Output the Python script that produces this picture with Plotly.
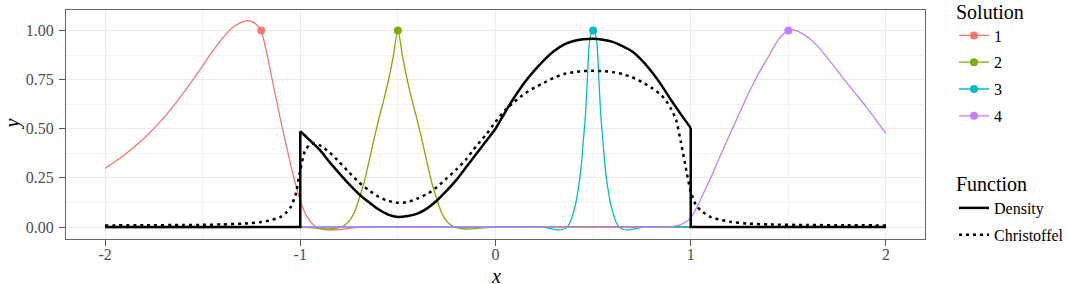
import plotly.graph_objects as go

# ---------------- data ----------------
sol_names = ["1", "2", "3", "4"]
sol_colors = ["#F8766D", "#7CAE00", "#00BFC4", "#C77CFF"]
peak_x = [-1.2, -0.5, 0.5, 1.5]
peak_y = [1.0, 1.0, 1.0, 1.0]

sol1_x = [-2.0, -1.9, -1.8, -1.7, -1.6, -1.5, -1.45, -1.4, -1.35, -1.3, -1.275, -1.25, -1.225, -1.2,
          -1.175, -1.15, -1.125, -1.1, -1.075, -1.05, -1.025, -1.0, -0.975, -0.95, -0.925, -0.9,
          -0.85, -0.8, -0.75, -0.7, -0.6, -0.3, 0.0, 0.3, 0.7, 1.0, 1.5, 2.0]
sol1_y = [0.298, 0.368, 0.452, 0.555, 0.68, 0.82, 0.893, 0.958, 1.012, 1.042, 1.05, 1.046, 1.03, 0.996,
          0.9, 0.78, 0.66, 0.54, 0.43, 0.32, 0.22, 0.135, 0.07, 0.03, 0.005, -0.008,
          -0.015, -0.013, -0.007, -0.002, 0.0, 0.0, 0.0, 0.002, 0.002, 0.0, 0.0, 0.0]

sol2_x = [-2.0, -1.5, -1.0, -0.95, -0.9, -0.85, -0.8, -0.775, -0.75, -0.725, -0.7, -0.675, -0.65, -0.625,
          -0.6, -0.575, -0.55, -0.525, -0.5, -0.475, -0.45, -0.425, -0.4, -0.375, -0.35, -0.325,
          -0.3, -0.275, -0.25, -0.225, -0.2, -0.15, -0.1, -0.05, 0.0, 0.5, 1.0, 1.5, 2.0]
sol2_y = [-0.003, -0.003, -0.002, -0.003, -0.008, -0.01, -0.003, 0.008, 0.03, 0.07, 0.14, 0.22, 0.325, 0.435,
          0.54, 0.635, 0.74, 0.86, 1.0, 0.86, 0.74, 0.635, 0.54, 0.435, 0.325, 0.22,
          0.14, 0.07, 0.03, 0.008, -0.003, -0.01, -0.008, -0.003, 0.0, 0.0, 0.0, 0.0, 0.0]

sol3_x = [-2.0, -1.0, 0.0, 0.23, 0.27, 0.3, 0.325, 0.35, 0.37, 0.38, 0.39, 0.4, 0.41, 0.42, 0.43, 0.44,
          0.45, 0.46, 0.47, 0.48, 0.49, 0.5, 0.51, 0.52, 0.53, 0.54, 0.55, 0.56, 0.57, 0.58, 0.59,
          0.6, 0.61, 0.62, 0.63, 0.65, 0.675, 0.7, 0.73, 0.77, 1.0, 1.5, 2.0]
sol3_y = [0.0, 0.0, 0.0, 0.0, -0.005, -0.012, -0.015, -0.01, 0.003, 0.02, 0.045, 0.078, 0.115, 0.17,
          0.235, 0.32, 0.44, 0.56, 0.74, 0.93, 0.985, 1.0, 0.985, 0.93, 0.74, 0.56, 0.44, 0.32,
          0.235, 0.17, 0.115, 0.078, 0.045, 0.02, 0.003, -0.01, -0.015, -0.012, -0.005, 0.0, 0.0,
          0.0, 0.0]

sol4_x = [-2.0, -1.0, 0.0, 0.85, 0.9, 0.95, 1.0, 1.05, 1.1, 1.15, 1.2, 1.25, 1.3, 1.35, 1.4, 1.45, 1.5,
          1.525, 1.55, 1.6, 1.65, 1.7, 1.75, 1.8, 1.85, 1.9, 1.95, 2.0]
sol4_y = [0.0, 0.0, 0.0, 0.0, 0.002, 0.012, 0.045, 0.14, 0.245, 0.36, 0.47, 0.58, 0.688, 0.785, 0.87,
          0.955, 1.0, 1.003, 0.995, 0.965, 0.92, 0.86, 0.797, 0.733, 0.672, 0.61, 0.543, 0.476]

dens_x = [-2.0, -1.0, -1.0, -0.95, -0.9, -0.85, -0.8, -0.75, -0.7, -0.65, -0.6, -0.55, -0.5, -0.45,
          -0.4, -0.35, -0.3, -0.25, -0.2, -0.15, -0.1, -0.05, 0.0, 0.05, 0.1, 0.15, 0.2, 0.25,
          0.3, 0.35, 0.4, 0.45, 0.5, 0.55, 0.6, 0.65, 0.7, 0.75, 0.8, 0.85, 0.9, 0.95, 1.0, 1.0, 2.0]
dens_y = [0.0, 0.0, 0.487, 0.44, 0.392, 0.33, 0.273, 0.218, 0.168, 0.127, 0.09, 0.063, 0.051, 0.056,
          0.068, 0.095, 0.135, 0.185, 0.24, 0.305, 0.37, 0.435, 0.5, 0.585, 0.665, 0.737, 0.797, 0.85,
          0.895, 0.928, 0.946, 0.955, 0.958, 0.953, 0.942, 0.92, 0.893, 0.848, 0.79, 0.722, 0.645,
          0.573, 0.504, 0.0, 0.0]

chr_x = [-2.0, -1.8, -1.6, -1.5, -1.4, -1.3, -1.25, -1.2, -1.15, -1.1, -1.075, -1.05, -1.025, -1.0,
         -0.975, -0.95, -0.925, -0.9, -0.85, -0.8, -0.75, -0.7, -0.65, -0.6, -0.55, -0.5, -0.45,
         -0.4, -0.35, -0.3, -0.25, -0.2, -0.15, -0.1, -0.05, 0.0, 0.05, 0.1, 0.15, 0.2, 0.25, 0.3,
         0.35, 0.4, 0.45, 0.5, 0.55, 0.6, 0.65, 0.7, 0.75, 0.8, 0.85, 0.875, 0.9, 0.925, 0.95,
         0.975, 1.0, 1.025, 1.05, 1.1, 1.15, 1.2, 1.3, 1.4, 1.6, 1.8, 2.0]
chr_y = [0.008, 0.009, 0.01, 0.011, 0.013, 0.017, 0.02, 0.025, 0.035, 0.052, 0.07, 0.1, 0.16, 0.29,
         0.39, 0.42, 0.425, 0.415, 0.38, 0.33, 0.278, 0.228, 0.188, 0.155, 0.133, 0.123, 0.127,
         0.145, 0.168, 0.203, 0.248, 0.293, 0.345, 0.41, 0.468, 0.535, 0.595, 0.64, 0.679, 0.709,
         0.735, 0.76, 0.778, 0.788, 0.793, 0.795, 0.793, 0.788, 0.778, 0.762, 0.738, 0.708, 0.67,
         0.64, 0.6, 0.545, 0.43, 0.3, 0.18, 0.115, 0.085, 0.052, 0.037, 0.027, 0.017, 0.013, 0.01,
         0.009, 0.008]

x_ticks = [-2, -1, 0, 1, 2]
x_tick_labels = ["-2", "-1", "0", "1", "2"]
x_minor = [-1.5, -0.5, 0.5, 1.5]
y_ticks = [0, 0.25, 0.5, 0.75, 1.0]
y_tick_labels = ["0.00", "0.25", "0.50", "0.75", "1.00"]
y_minor = [0.125, 0.375, 0.625, 0.875]
x_title = "<i>x</i>"
y_title = "<i>y</i>"

FONT = "Liberation Serif"

fig = go.Figure()

sol_xs = [sol1_x, sol2_x, sol3_x, sol4_x]
sol_ys = [sol1_y, sol2_y, sol3_y, sol4_y]
for xs, ys, c in zip(sol_xs, sol_ys, sol_colors):
    fig.add_trace(go.Scatter(x=xs, y=ys, mode="lines",
                             line=dict(color=c, width=1.3, shape="spline", smoothing=0.8),
                             showlegend=False, hoverinfo="skip"))

# Density: flat/vertical pieces drawn straight, smooth middle part as spline
dens_line = dict(color="black", width=2.5)
fig.add_trace(go.Scatter(x=dens_x[:3], y=dens_y[:3], mode="lines", line=dens_line,
                         showlegend=False, hoverinfo="skip"))
fig.add_trace(go.Scatter(x=dens_x[-3:], y=dens_y[-3:], mode="lines", line=dens_line,
                         showlegend=False, hoverinfo="skip"))
fig.add_trace(go.Scatter(x=dens_x[2:-2], y=dens_y[2:-2], mode="lines", name="Density",
                         line=dict(color="black", width=2.5, shape="spline", smoothing=0.6),
                         legend="legend2", legendgroup="d"))
fig.add_trace(go.Scatter(x=chr_x, y=chr_y, mode="lines", name="Christoffel",
                         line=dict(color="black", width=2.5, dash="3px,4px", shape="spline",
                                   smoothing=0.6),
                         legend="legend2", legendgroup="c"))

for i, (n, c) in enumerate(zip(sol_names, sol_colors)):
    fig.add_trace(go.Scatter(x=[peak_x[i]], y=[peak_y[i]], mode="lines+markers", name=n,
                             line=dict(color=c, width=1.3), marker=dict(color=c, size=8),
                             legend="legend", legendgroup="s" + n))

grid = "#EBEBEB"
fig.update_layout(
    width=1068, height=284,
    margin=dict(l=66, r=143, t=10, b=45, autoexpand=False),
    plot_bgcolor="white", paper_bgcolor="white",
    font=dict(family=FONT, size=16, color="#4D4D4D"),
    xaxis=dict(range=[-2.2, 2.2], tickvals=x_ticks, ticktext=x_tick_labels, automargin=False,
               showgrid=True, gridcolor=grid, gridwidth=1, zeroline=False,
               showline=True, mirror=True, linecolor="#666666", linewidth=1,
               ticks="outside", ticklen=6, tickcolor="#555555", tickwidth=1,
               ticklabelstandoff=-5,
               tickfont=dict(family=FONT, size=16, color="#4D4D4D"),
               minor=dict(tickvals=x_minor, showgrid=True, gridcolor="#F3F3F3", gridwidth=1, ticks="")),
    yaxis=dict(range=[-0.061, 1.104], tickvals=y_ticks, ticktext=y_tick_labels, automargin=False,
               showgrid=True, gridcolor=grid, gridwidth=1, zeroline=False,
               showline=True, mirror=True, linecolor="#666666", linewidth=1,
               ticks="outside", ticklen=6, tickcolor="#555555", tickwidth=1,
               ticklabelstandoff=2,
               tickfont=dict(family=FONT, size=16, color="#4D4D4D"),
               minor=dict(tickvals=y_minor, showgrid=True, gridcolor="#F3F3F3", gridwidth=1, ticks="")),
    legend=dict(title=dict(text="Solution", font=dict(family=FONT, size=20, color="black")),
                xref="paper", yref="paper", x=(954 - 66) / 859, y=246.5 / 229,
                xanchor="left", yanchor="top", itemwidth=30, tracegroupgap=3, maxheight=300,
                font=dict(family=FONT, size=16, color="black"), bgcolor="rgba(0,0,0,0)"),
    legend2=dict(title=dict(text="Function", font=dict(family=FONT, size=20, color="black")),
                 xref="paper", yref="paper", x=(954 - 66) / 859, y=(239 - 165) / 229,
                 xanchor="left", yanchor="top", itemwidth=30, tracegroupgap=3, maxheight=300,
                 font=dict(family=FONT, size=16, color="black"), bgcolor="rgba(0,0,0,0)"),
    annotations=[
        dict(text=x_title, xref="paper", yref="paper", x=0.5, y=0, xanchor="center",
             yanchor="top", yshift=-24, showarrow=False,
             font=dict(family=FONT, size=20, color="black")),
        dict(text=y_title, xref="paper", yref="paper", x=0, y=0.5, xanchor="center",
             yanchor="middle", xshift=-54, textangle=-90, showarrow=False,
             font=dict(family=FONT, size=20, color="black")),
    ],
)

fig.write_html("out.html")
